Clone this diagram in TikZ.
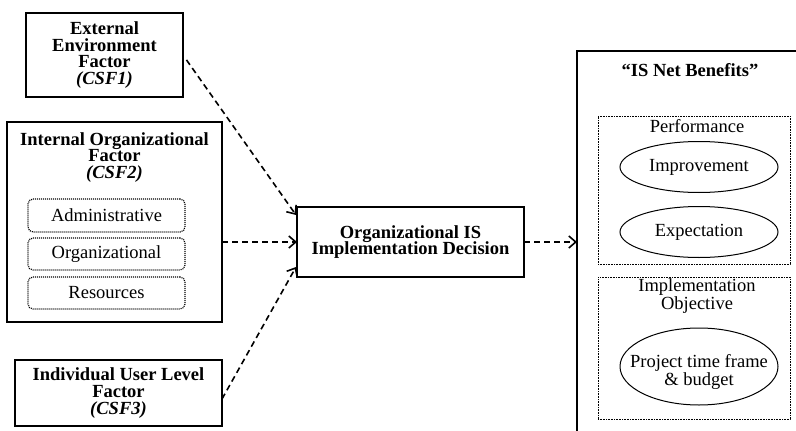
\documentclass[tikz,border=0pt]{standalone}
\usepackage{fontspec}
\setmainfont{Liberation Serif}
\usetikzlibrary{shapes.geometric,arrows.meta}
\newcommand\tightlines{\lineskiplimit=-20pt\relax}
\tikzset{
  x=1pt,y=-1pt,
  every node/.style={inner sep=0pt, outer sep=0pt},
  solidbox/.style={draw, line width=1.7pt, rectangle, align=center,
    font={\fontsize{18.5}{16.7}\selectfont\tightlines\bfseries}},
  titletext/.style={align=center, font={\fontsize{18.5}{16.7}\selectfont\tightlines\bfseries}},
  plaintext/.style={align=center, font={\fontsize{18.5}{17.5}\selectfont\tightlines}},
  dotround/.style={draw, dash pattern=on 1pt off 1pt, line width=1.2pt, rounded corners=5pt,
    minimum width=157, font={\fontsize{18.5}{18}\selectfont}},
  dotbox/.style={draw, dash pattern=on 0.8pt off 0.8pt, line width=0.8pt, rectangle},
  oval/.style={draw, ellipse, line width=1pt, minimum width=158, align=center,
    font={\fontsize{18.5}{14}\selectfont}},
  ovaltext/.style={align=center, font={\fontsize{18.5}{17.5}\selectfont\tightlines}},
  flow/.style={dash pattern=on 6pt off 4pt, line width=1.6pt,
    -{Straight Barb[length=7pt,width=12pt,line width=1.6pt]}},
}
\begin{document}
\begin{tikzpicture}
\useasboundingbox (0,0) rectangle (796,431);
\fill[white] (0,0) rectangle (796,431);
\begin{scope}
\clip (0,0) rectangle (796,431);
% left column
\node[solidbox, minimum width=157, minimum height=84] (external) at (104.5,55)
  {External\\Environment\\Factor\\\textit{(CSF1)}};
\node[solidbox, minimum width=215, minimum height=200] (internal) at (114.5,222) {};
\node[titletext] (inttitle) at (114.5,157.5)
  {Internal Organizational\\Factor\\\textit{(CSF2)}};
\node[dotround, minimum height=33] (admin) at (106.5,215.5) {Administrative};
\node[dotround, minimum height=32] (org) at (106.5,254) {Organizational};
\node[dotround, minimum height=32] (res) at (106.5,293) {Resources};
\node[solidbox, minimum width=207, minimum height=66] (individual) at (118.5,393)
  {Individual User Level\\Factor\\\textit{(CSF3)}};
% centre
\node[solidbox, minimum width=227, minimum height=70] (decision) at (410.5,242)
  {Organizational IS\\Implementation Decision};
% right
\node[draw, line width=1.7pt, rectangle, minimum width=240, minimum height=400,
  anchor=north west] (benefits) at (577,51) {};
\node[titletext] (bentitle) at (690,70) {``IS Net Benefits''};
\node[dotbox, minimum width=192, minimum height=148] (perf) at (694,190) {};
\node[plaintext] (perftitle) at (697,126) {Performance};
\node[oval, minimum height=51] (improve) at (699,167) {Improvement};
\node[oval, minimum height=51] (expect) at (699,232) {Expectation};
\node[dotbox, minimum width=192, minimum height=142] (impl) at (694,348) {};
\node[plaintext] (impltitle) at (697,296) {Implementation\\Objective};
\node[oval, minimum height=77] (project) at (699,366.5) {};
\node[ovaltext] (projtext) at (699,372) {Project time frame\\\& budget};
\end{scope}
% connectors
\draw[flow, shorten <=6pt] (external.east) -- ([xshift=-1pt,yshift=-8pt]decision.north west);
\draw[flow] (internal.east |- decision.west) -- (decision.west);
\draw[flow] ([yshift=-6pt]individual.east) -- ([xshift=-1pt,yshift=10pt]decision.south west);
\draw[flow] (decision.east) -- (decision.east -| benefits.west);
\end{tikzpicture}
\end{document}
